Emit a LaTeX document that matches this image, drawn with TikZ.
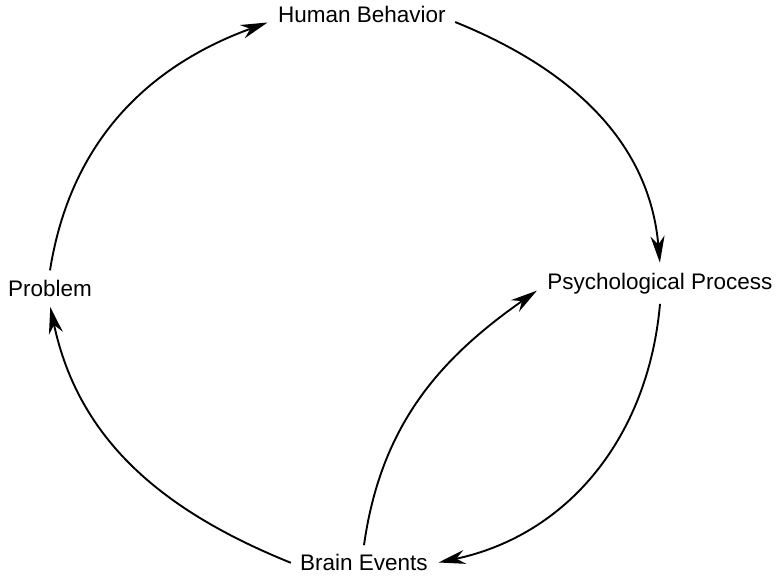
\documentclass[tikz,border=0pt]{standalone}
\usepackage{fontspec}
\setmainfont{Liberation Sans}
\usetikzlibrary{arrows.meta}

\begin{document}
\begin{tikzpicture}[->,>={Stealth[length=19pt,width=10pt,inset=6pt]},shorten >=1pt,line width=1.35pt,
                    every node/.style={font=\fontsize{16}{19}\selectfont,inner sep=6pt}]
  \useasboundingbox (0,0) rectangle (19.5,14.4);

  \node (hb)    at (9.05,14.05) {Human Behavior};
  \node (psych) at (16.5,7.3)   {Psychological Process};
  \node (prob)  at (1.25,7.2)   {Problem};
  \node (brain) at (9.1,0.33)   {Brain Events};

  \draw (prob.north) to[out=81,in=200] (hb.base west);
  \draw (hb.base east) to[out=-22,in=95] (psych.north);
  \draw (psych.south) to[out=-95,in=12] (brain.east);
  \draw (brain.west) to[out=158,in=-78] (prob.south);
  \draw (brain.north) to[out=82,in=215] (psych.base west);
\end{tikzpicture}
\end{document}
